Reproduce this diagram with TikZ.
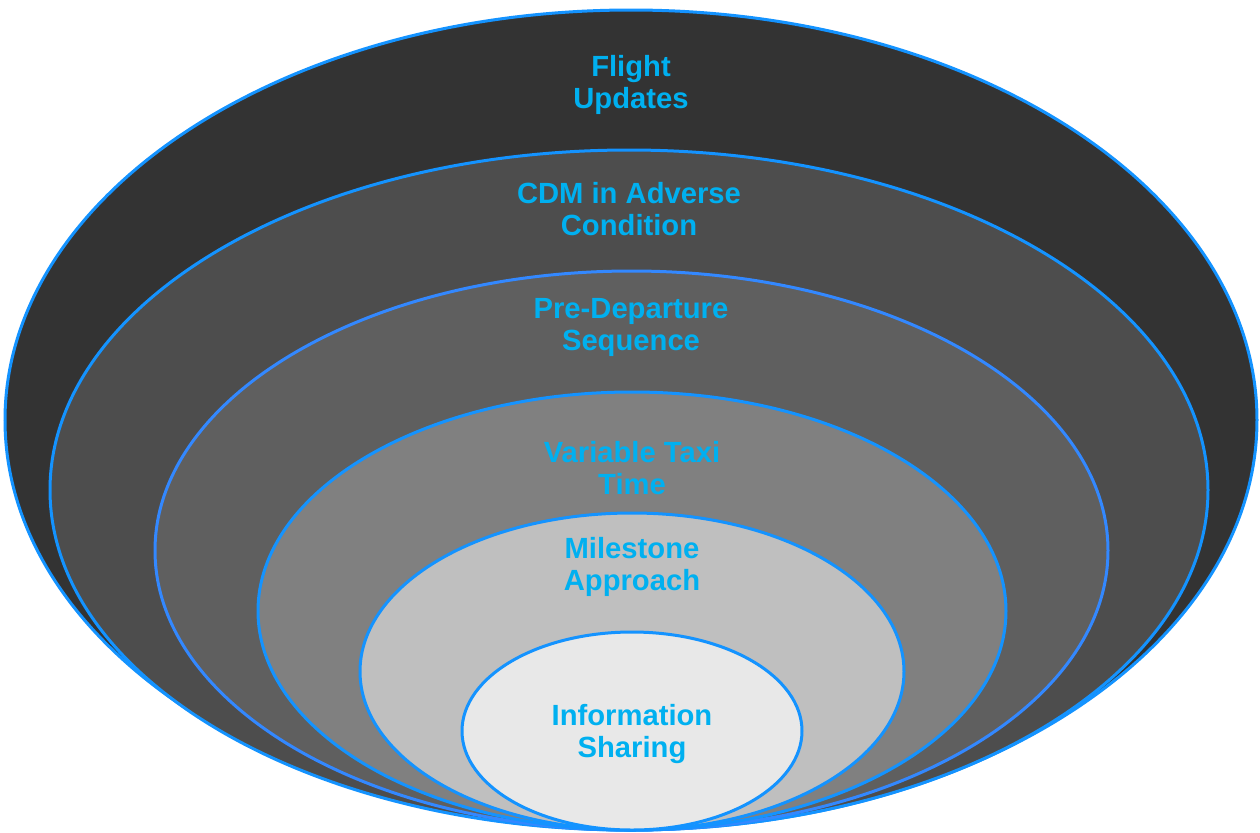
\documentclass[tikz,border=0pt]{standalone}
\usepackage{fontspec}
\setmainfont{Liberation Sans}
\definecolor{ring}{HTML}{1493FF}
\definecolor{ringb}{HTML}{3388FF}
\definecolor{lbl}{HTML}{00B0F0}
\definecolor{c1}{HTML}{333333}
\definecolor{c2}{HTML}{4D4D4D}
\definecolor{c3}{HTML}{5F5F5F}
\definecolor{c4}{HTML}{808080}
\definecolor{c5}{HTML}{BFBFBF}
\definecolor{c6}{HTML}{E8E8E8}
\tikzset{
  layer/.style={draw=ring, line width=1.5pt},
  lab/.style={text=lbl, font=\fontsize{14.6}{16}\selectfont\bfseries, align=center, inner sep=0pt}
}
\begin{document}
\begin{tikzpicture}[x=0.5pt, y=-0.5pt]
\useasboundingbox (0,0) rectangle (1260,832);
\fill[white] (0,0) rectangle (1260,832);
\path[layer, fill=c1] (631,420) ellipse [x radius=626, y radius=410];
\path[layer, fill=c2] (629,490) ellipse [x radius=579, y radius=340];
\path[layer, draw=ringb, fill=c3] (631.5,550.5) ellipse [x radius=476.5, y radius=279.5];
\path[layer, fill=c4] (632,611) ellipse [x radius=374, y radius=219];
\path[layer, fill=c5] (632,671.5) ellipse [x radius=272, y radius=158.5];
\path[layer, fill=c6] (632,731) ellipse [x radius=170, y radius=99];
\node[lab] (t1) at (631,85) {Flight\\Updates};
\node[lab] (t2) at (629,209) {CDM in Adverse\\Condition};
\node[lab] (t3) at (631,327) {Pre-Departure\\Sequence};
\node[lab] (t4) at (632,468) {Variable Taxi\\Time};
\node[lab] (t5) at (632,567) {Milestone\\Approach};
\node[lab] (t6) at (632,734) {Information\\Sharing};
\end{tikzpicture}
\end{document}
